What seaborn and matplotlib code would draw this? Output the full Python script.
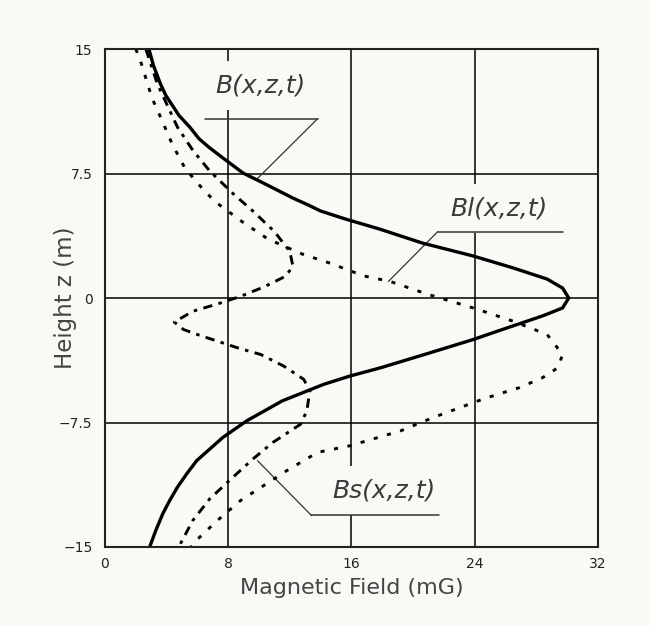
import matplotlib
matplotlib.use("Agg")
import matplotlib.pyplot as plt
import seaborn as sns
import pandas as pd

# curves: field (mG) against height z (m)
z_B = [15, 14.0, 12.9, 12.2, 11.5, 11.0, 10.3, 9.6, 9.04, 8.37, 7.53, 6.87, 6.02,
       5.6, 5.24, 4.76, 4.16, 3.31, 2.53, 1.81, 1.14, 0.6, 0.0, -0.6, -1.08, -1.8,
       -2.5, -3.3, -4.2, -4.7, -5.2, -6.2, -7.4, -8.4, -9.8, -10.6, -11.4, -12.2,
       -13.0, -14.0, -15]
B = [2.85, 3.15, 3.6, 3.95, 4.45, 4.8, 5.5, 6.1, 6.8, 7.75, 8.96, 10.4, 12.2,
     13.2, 14.0, 15.6, 17.8, 20.6, 23.9, 26.5, 28.7, 29.7, 30.1, 29.7, 28.4, 26.1,
     23.9, 21.1, 17.9, 15.9, 14.2, 11.5, 9.2, 7.65, 5.95, 5.3, 4.7, 4.2,
     3.75, 3.3, 2.9]

z_Bl = [15, 14.3, 12.05, 10.7, 9.3, 7.8, 6.4, 5.7, 4.6, 3.6, 3.3, 2.65, 2.1, 1.33,
        1.0, 0.24, -0.6, -1.4, -2.2, -3.4, -4.2, -4.8, -5.4, -5.8, -6.1, -7.2, -8.0,
        -8.9, -9.3, -10.4, -11.3, -12.2, -13.4, -14.8, -15]
Bl = [2.0, 2.3, 3.05, 3.7, 4.35, 5.2, 6.5, 7.3, 8.9, 10.5, 11.2, 12.8, 14.6, 16.8,
      18.5, 20.9, 23.9, 26.5, 28.7, 29.7, 29.4, 28.4, 26.9, 25.5, 24.5, 21.3, 19.2,
      15.9, 13.8, 11.8, 10.3, 8.8, 7.3, 5.7, 5.6]

z_Bs = [15, 14.3, 12.9, 10.3, 8.9, 7.65, 6.3, 5.24, 4.0, 2.8, 1.9, 1.3, 0.66, 0.1,
        -0.36, -0.8, -1.45, -1.9, -2.2, -2.6, -3.0, -3.4, -4.1, -4.9, -5.6, -6.8,
        -7.6, -8.7, -9.7, -10.8, -12.1, -13.4, -14.8, -15]
Bs = [2.65, 2.9, 3.4, 4.7, 5.7, 6.8, 8.3, 9.6, 11.0, 12.0, 12.2, 11.7, 10.3, 8.8,
      7.3, 5.7, 4.5, 5.1, 6.0, 7.3, 8.6, 10.1, 11.6, 12.9, 13.3, 13.1,
      12.7, 10.9, 9.6, 8.3, 6.8, 5.7, 4.9, 4.8]

x_ticks = [0, 8, 16, 24, 32]
y_ticks = [-15, -7.5, 0, 7.5, 15]
y_ticklabels = ["\u221215", "\u22127.5", "0", "7.5", "15"]

bg = "#f9f9f6"
sns.set_style("white", rc={"axes.facecolor": bg, "figure.facecolor": bg})
plt.rcParams["font.family"] = ["DejaVu Sans"]

fig = plt.figure(figsize=(6.5, 6.26), dpi=100)
ax = fig.add_axes([0.1615, 0.1262, 0.7585, 0.7955])

df_B = pd.DataFrame({"field": B, "z": z_B})
df_Bl = pd.DataFrame({"field": Bl, "z": z_Bl})
df_Bs = pd.DataFrame({"field": Bs, "z": z_Bs})

sns.lineplot(data=df_B, x="field", y="z", sort=False, estimator=None, ax=ax,
             color="black", lw=2.4, zorder=5)
sns.lineplot(data=df_Bl, x="field", y="z", sort=False, estimator=None, ax=ax,
             color="black", lw=2.1, ls=(0, (1.4, 3.3)), zorder=5)
sns.lineplot(data=df_Bs, x="field", y="z", sort=False, estimator=None, ax=ax,
             color="black", lw=2.1, ls=(0, (3.2, 2.2, 1.2, 2.2)), zorder=5)

ax.set_xlim(0, 32)
ax.set_ylim(-15, 15)
ax.set_xticks(x_ticks)
ax.set_xticklabels([str(t) for t in x_ticks])
ax.set_yticks(y_ticks)
ax.set_yticklabels(y_ticklabels)
ax.tick_params(axis="both", length=0, labelsize=10, colors="#222222")
ax.tick_params(axis="x", pad=7)
ax.tick_params(axis="y", pad=9)
ax.grid(True, color="black", lw=1.1)
ax.set_axisbelow(True)
for s in ax.spines.values():
    s.set_color("#222222")
    s.set_linewidth(1.5)
    s.set_zorder(6)

ax.set_xlabel("Magnetic Field (mG)", fontsize=16, color="#444444", labelpad=5)
ax.set_ylabel("Height z (m)", fontsize=16.5, color="#444444")
ax.yaxis.set_label_coords(-0.057, 0.5)

# labels with underline and leader
notes = [("B(x,z,t)", 10.1, 12.8, 6.5, 13.8, 10.8, 13.8, 9.9, 7.2),
         ("Bl(x,z,t)", 25.6, 5.4, 21.6, 29.7, 4.0, 21.6, 18.4, 1.0),
         ("Bs(x,z,t)", 18.1, -11.6, 13.4, 21.7, -13.1, 13.4, 9.9, -9.8)]
for txt, tx, tz, u0, u1, uz, lx, px, pz in notes:
    ax.text(tx, tz, txt, fontsize=18, style="italic", color="#3a3a3a",
            ha="center", va="center", zorder=3,
            bbox=dict(boxstyle="square,pad=0.5", fc=bg, ec="none"))
    ax.plot([u0, u1], [uz, uz], color="#333333", lw=1.1, zorder=4)
    ax.plot([lx, px], [uz, pz], color="#333333", lw=0.9, zorder=4)

fig.savefig("out.png", dpi=100, facecolor=bg)
